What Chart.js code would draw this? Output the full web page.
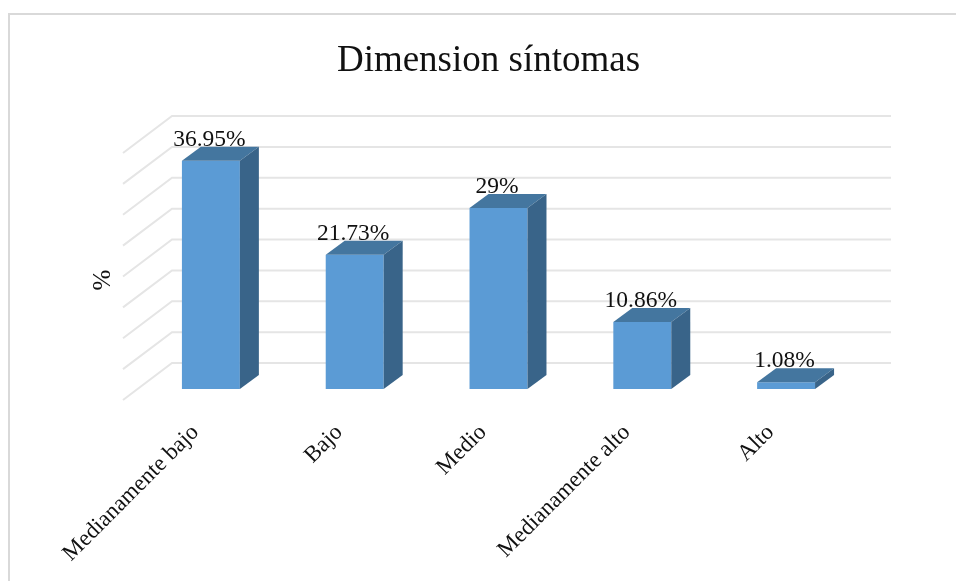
<!DOCTYPE html>
<html>
<head>
<meta charset="utf-8">
<style>
  html, body { margin: 0; padding: 0; background: #fff; }
  #cadre { position: absolute; left: 0; top: 0; width: 956px; height: 581px; }
</style>
<script src="https://cdn.jsdelivr.net/npm/chart.js@4"></script>
</head>
<body>
<div id="cadre"><canvas id="Graphique" width="956" height="581"></canvas></div>
<script>
var categories = ['Medianamente bajo', 'Bajo', 'Medio', 'Medianamente alto', 'Alto'];
var valeurs = [36.95, 21.73, 29.3, 10.86, 1.08];
var etiquettes = ['36.95%', '21.73%', '29%', '10.86%', '1.08%'];

var police = '"Liberation Serif"';
var profX = 19, profY = 14; // depth of the 3d bars

// back wall and floor lines, behind the bars
var grille3d = {
    id: 'grille3d',
    beforeDatasetsDraw: function (chart) {
        var ctx = chart.ctx, y = chart.scales.y;
        ctx.save();
        ctx.strokeStyle = '#e5e5e5';
        ctx.lineWidth = 2;
        y.ticks.forEach(function (t) {
            var py = y.getPixelForValue(t.value);
            ctx.beginPath();
            ctx.moveTo(123, py + 11);
            ctx.lineTo(172, py - 26);
            ctx.lineTo(891, py - 26);
            ctx.stroke();
        });
        ctx.restore();
    }
};

// top and side faces, then the value labels
var barres3d = {
    id: 'barres3d',
    afterDatasetsDraw: function (chart) {
        var ctx = chart.ctx;
        ctx.save();
        chart.getDatasetMeta(0).data.forEach(function (b, i) {
            var g = b.x - b.width / 2, d = b.x + b.width / 2;
            ctx.fillStyle = '#44769f';
            ctx.beginPath();
            ctx.moveTo(g, b.y);
            ctx.lineTo(g + profX, b.y - profY);
            ctx.lineTo(d + profX, b.y - profY);
            ctx.lineTo(d, b.y);
            ctx.closePath();
            ctx.fill();
            ctx.fillStyle = '#396489';
            ctx.beginPath();
            ctx.moveTo(d, b.y);
            ctx.lineTo(d + profX, b.y - profY);
            ctx.lineTo(d + profX, b.base - profY);
            ctx.lineTo(d, b.base);
            ctx.closePath();
            ctx.fill();
            ctx.fillStyle = '#111';
            ctx.font = '23.5px ' + police;
            ctx.textAlign = 'center';
            ctx.textBaseline = 'alphabetic';
            ctx.fillText(etiquettes[i], b.x - 1.5, b.y - 15);
        });
        // axis name sits below the middle of the axis
        ctx.translate(103, 280);
        ctx.rotate(-Math.PI / 2);
        ctx.fillStyle = '#111';
        ctx.font = '25px ' + police;
        ctx.textAlign = 'center';
        ctx.textBaseline = 'middle';
        ctx.fillText('%', 0, 0);
        ctx.restore();
    }
};

// frame of the chart: only top and left are visible
var cadre = {
    id: 'cadre',
    beforeDraw: function (chart) {
        var ctx = chart.ctx;
        ctx.save();
        ctx.strokeStyle = '#d9d9d9';
        ctx.lineWidth = 2;
        ctx.beginPath();
        ctx.moveTo(9, 581);
        ctx.lineTo(9, 14);
        ctx.lineTo(956, 14);
        ctx.stroke();
        ctx.restore();
    }
};

new Chart(document.getElementById('Graphique').getContext('2d'), {
    type: 'bar',
    data: {
        labels: categories,
        datasets: [{
            label: '%',
            data: valeurs,
            backgroundColor: '#5b9bd5',
            borderWidth: 0,
            barPercentage: 0.403,
            categoryPercentage: 1
        }]
    },
    options: {
        responsive: false,
        animation: false,
        devicePixelRatio: 1,
        layout: { padding: { left: 90, right: 69, top: 0, bottom: 0 } },
        plugins: {
            legend: { display: false },
            tooltip: { enabled: false },
            title: {
                display: true,
                text: 'Dimension síntomas',
                color: '#111',
                font: { family: police, size: 37, weight: 'normal', lineHeight: 1.2 },
                padding: { top: 39, bottom: 58.6 }
            }
        },
        scales: {
            x: {
                grid: { display: false, drawTicks: false },
                border: { display: false },
                ticks: {
                    autoSkip: false,
                    minRotation: 45,
                    maxRotation: 45,
                    padding: 30,
                    labelOffset: -15.5,
                    color: '#111',
                    font: { family: police, size: 23 }
                },
                afterFit: function (s) { s.height = 192; }
            },
            y: {
                min: 0,
                max: 40,
                grid: { display: false, drawTicks: false },
                border: { display: false },
                ticks: { stepSize: 5, display: false },
                afterFit: function (s) { s.width = 49; }
            },
            y2: {
                position: 'right',
                grid: { display: false, drawTicks: false },
                border: { display: false },
                ticks: { display: false },
                afterFit: function (s) { s.width = 29; }
            }
        }
    },
    plugins: [cadre, grille3d, barres3d]
});
</script>
</body>
</html>
